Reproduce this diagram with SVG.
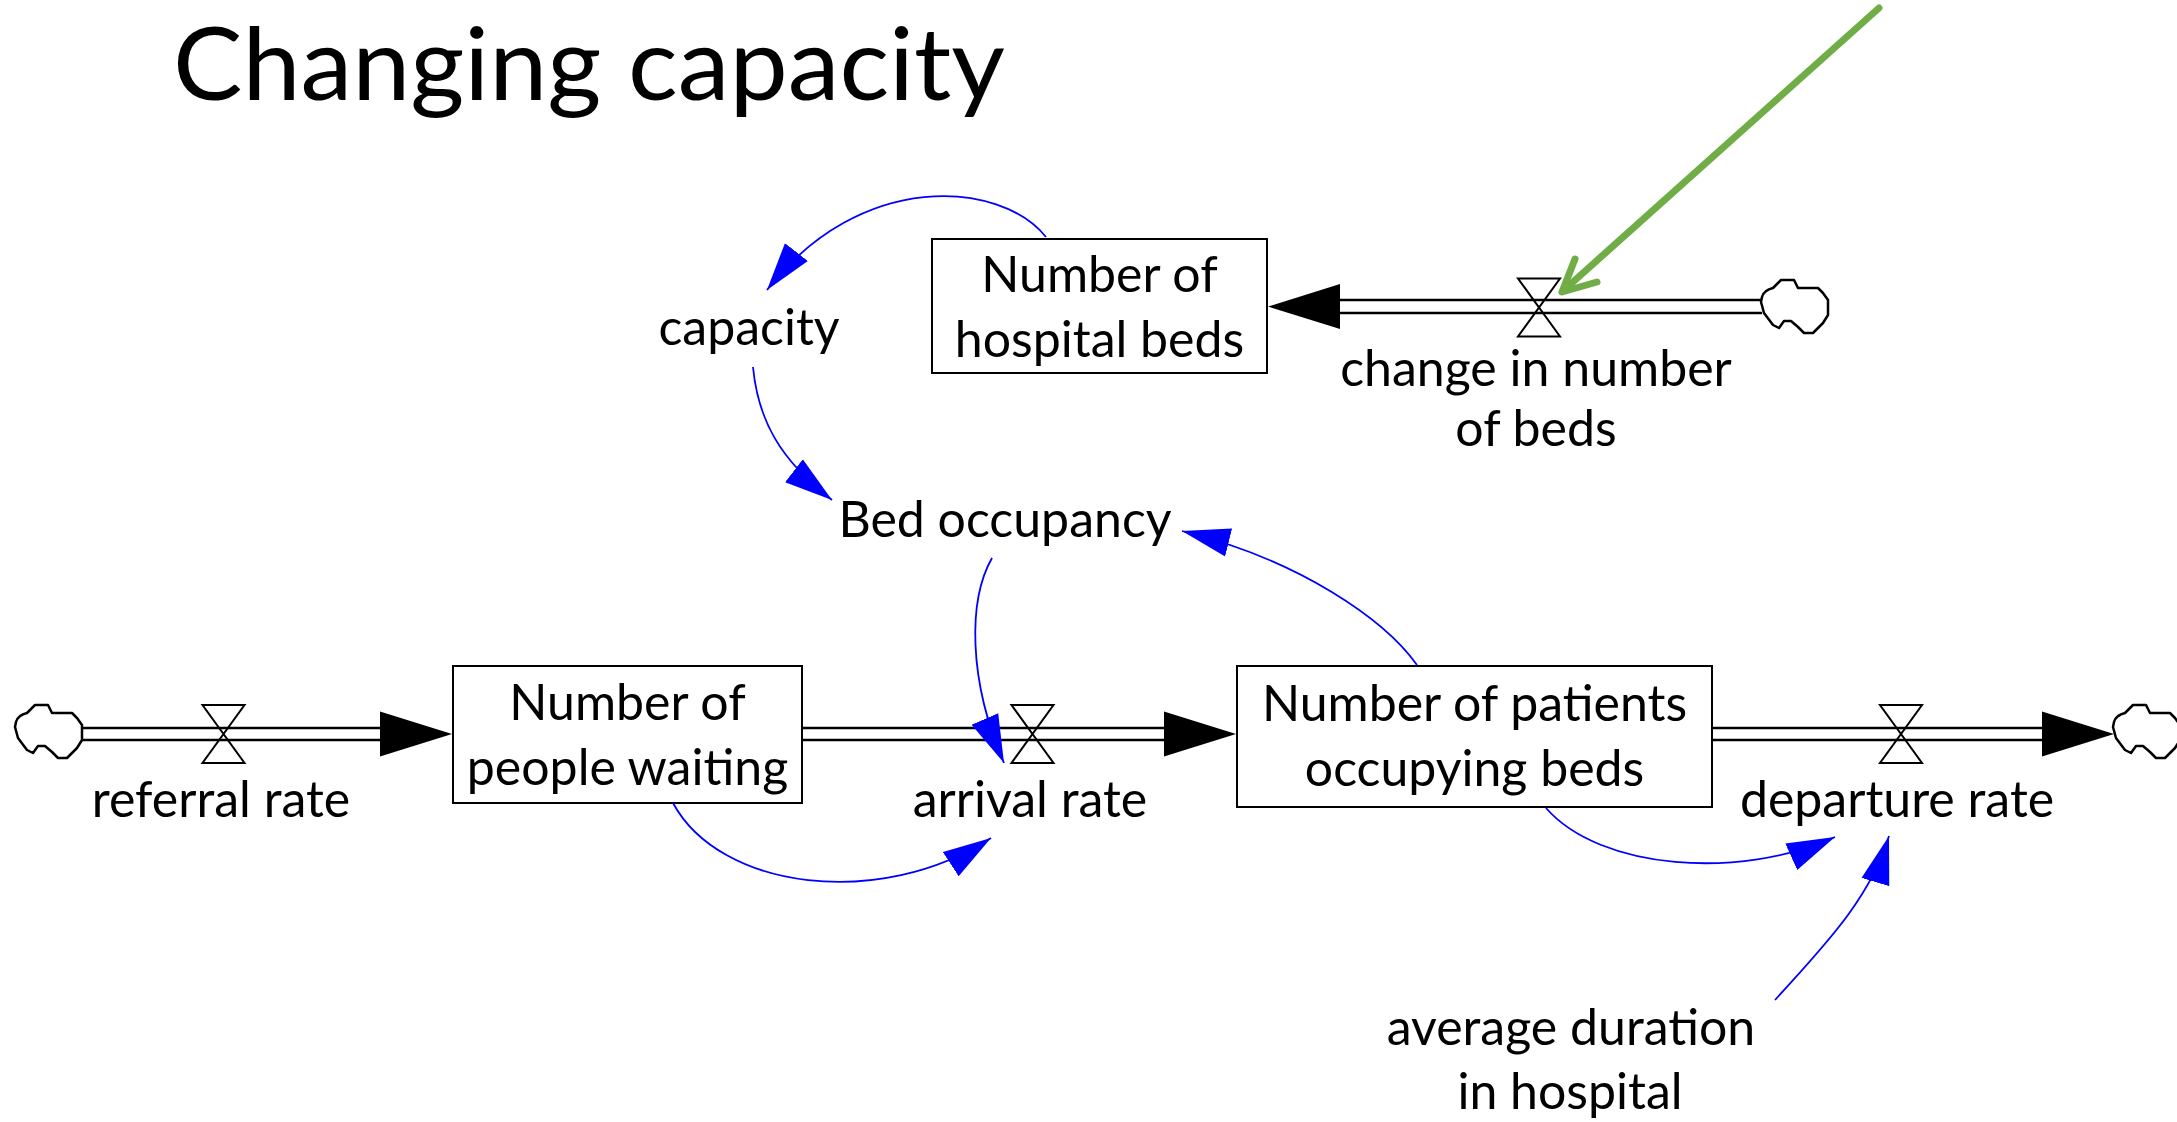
<svg xmlns="http://www.w3.org/2000/svg" xmlns:xlink="http://www.w3.org/1999/xlink" width="2177" height="1122" viewBox="0 0 2177 1122">
  <style>
    .lbl { font-family: "Lato", "Liberation Sans", sans-serif; font-size: 50px; fill: #000; text-anchor: middle; }
    .title { font-family: "Lato", "Liberation Sans", sans-serif; font-size: 101px; fill: #000; }
    .box { fill: #fff; stroke: #000; stroke-width: 2; }
    .pipe { stroke: #000; stroke-width: 2.5; fill: none; }
    .valve { fill: none; stroke: #000; stroke-width: 2; stroke-linejoin: miter; }
    .cloud { fill: #fff; stroke: #000; stroke-width: 2.5; stroke-linejoin: round; }
    .flowhead { fill: #000; }
    .link { fill: none; stroke: #0000ff; stroke-width: 1.8; marker-end: url(#bluehead); }
  </style>
  <defs>
    <marker id="bluehead" markerUnits="userSpaceOnUse" viewBox="0 0 48 30" markerWidth="48" markerHeight="30" refX="48" refY="15" orient="auto">
      <path d="M0,0.5 L48,15 L0,29.5 Z" fill="#0000ff"/>
    </marker>
    <!-- hourglass valve, centred on its origin -->
    <path id="valve" class="valve" d="M-21,-29 H21 L-21,29 H21 Z"/>
    <!-- source / sink cloud, top-left at origin -->
    <path id="cloud" class="cloud" d="M1,17 Q3,10 12,8 L17,3 L20,0 H33 L37,8 H57 L62,13 L67,20 V35 L62,43 L57,48 L52,53 H43 L37,47 L30,41 H23 L18,48 L12,45 L3,33 L0,22 Z"/>
    <!-- solid flow arrowhead, tip at origin pointing right -->
    <path id="flowhead" class="flowhead" d="M0,0 L-72,-22.5 L-72,22.5 Z"/>
  </defs>

  <rect width="2177" height="1122" fill="#fff"/>

  <text class="title" x="173" y="100" textLength="832" lengthAdjust="spacingAndGlyphs">Changing capacity</text>

  <!-- flows: pipes, valves, clouds, heads -->
  <g id="flows">
    <g id="flow-referral">
      <use xlink:href="#cloud" href="#cloud" x="15" y="705"/>
      <line class="pipe" x1="82" y1="728" x2="382" y2="728"/>
      <line class="pipe" x1="82" y1="740" x2="382" y2="740"/>
      <use xlink:href="#flowhead" href="#flowhead" x="452" y="734"/>
      <use xlink:href="#valve" href="#valve" x="223.5" y="734"/>
      <text class="lbl" x="221" y="817">referral rate</text>
    </g>
    <g id="flow-arrival">
      <line class="pipe" x1="803" y1="728" x2="1168" y2="728"/>
      <line class="pipe" x1="803" y1="740" x2="1168" y2="740"/>
      <use xlink:href="#flowhead" href="#flowhead" x="1236" y="734"/>
      <use xlink:href="#valve" href="#valve" x="1032.5" y="734"/>
      <text class="lbl" x="1030" y="817">arrival rate</text>
    </g>
    <g id="flow-departure">
      <line class="pipe" x1="1713" y1="728" x2="2046" y2="728"/>
      <line class="pipe" x1="1713" y1="740" x2="2046" y2="740"/>
      <use xlink:href="#flowhead" href="#flowhead" x="2114" y="734"/>
      <use xlink:href="#cloud" href="#cloud" x="2113" y="705"/>
      <use xlink:href="#valve" href="#valve" x="1901" y="734"/>
      <text class="lbl" x="1897" y="817">departure rate</text>
    </g>
    <g id="flow-beds">
      <line class="pipe" x1="1340" y1="300" x2="1762" y2="300"/>
      <line class="pipe" x1="1340" y1="313" x2="1762" y2="313"/>
      <use xlink:href="#flowhead" href="#flowhead" transform="translate(1268,306.5) rotate(180)"/>
      <use xlink:href="#cloud" href="#cloud" x="1761" y="280"/>
      <use xlink:href="#valve" href="#valve" x="1539" y="307.5"/>
      <text class="lbl" x="1536" y="386">change in number</text>
      <text class="lbl" x="1536" y="446">of beds</text>
    </g>
  </g>

  <!-- stocks -->
  <g id="stock-people-waiting">
    <rect class="box" x="453" y="666" width="349" height="137"/>
    <text class="lbl" x="627.5" y="720">Number of</text>
    <text class="lbl" x="627.5" y="785">people waiting</text>
  </g>
  <g id="stock-patients">
    <rect class="box" x="1237" y="666" width="475" height="141"/>
    <text class="lbl" x="1474.5" y="721">Number of patients</text>
    <text class="lbl" x="1474.5" y="786">occupying beds</text>
  </g>
  <g id="stock-hospital-beds">
    <rect class="box" x="932" y="239" width="335" height="134"/>
    <text class="lbl" x="1099.5" y="292">Number of</text>
    <text class="lbl" x="1099.5" y="357">hospital beds</text>
  </g>

  <!-- auxiliaries -->
  <g id="aux-capacity"><text class="lbl" x="749" y="345">capacity</text></g>
  <g id="aux-bed-occupancy"><text class="lbl" x="1005" y="537">Bed occupancy</text></g>
  <g id="aux-average-duration">
    <text class="lbl" x="1571" y="1045">average duration</text>
    <text class="lbl" x="1570" y="1109">in hospital</text>
  </g>

  <!-- information links -->
  <g id="links">
    <path class="link" d="M1046,237 C1000,180 860,170 767,290"/>
    <path class="link" d="M753,367 C758,420 780,460 832,500"/>
    <path class="link" d="M992,558 C968,600 968,680 1004,763"/>
    <path class="link" d="M1417,665 C1385,620 1300,560 1182,531"/>
    <path class="link" d="M673,803 C720,890 880,910 991,838"/>
    <path class="link" d="M1546,808 C1600,870 1740,880 1835,837"/>
    <path class="link" d="M1775,1000 C1820,950 1870,900 1889,836"/>
  </g>

  <!-- highlight pointer to the bed-change valve -->
  <g id="pointer" fill="none" stroke="#70ad47" stroke-width="7" stroke-linecap="round" stroke-linejoin="round">
    <line x1="1879" y1="8" x2="1564" y2="290"/>
    <polyline points="1575,259 1562,292 1597,282"/>
  </g>
</svg>
